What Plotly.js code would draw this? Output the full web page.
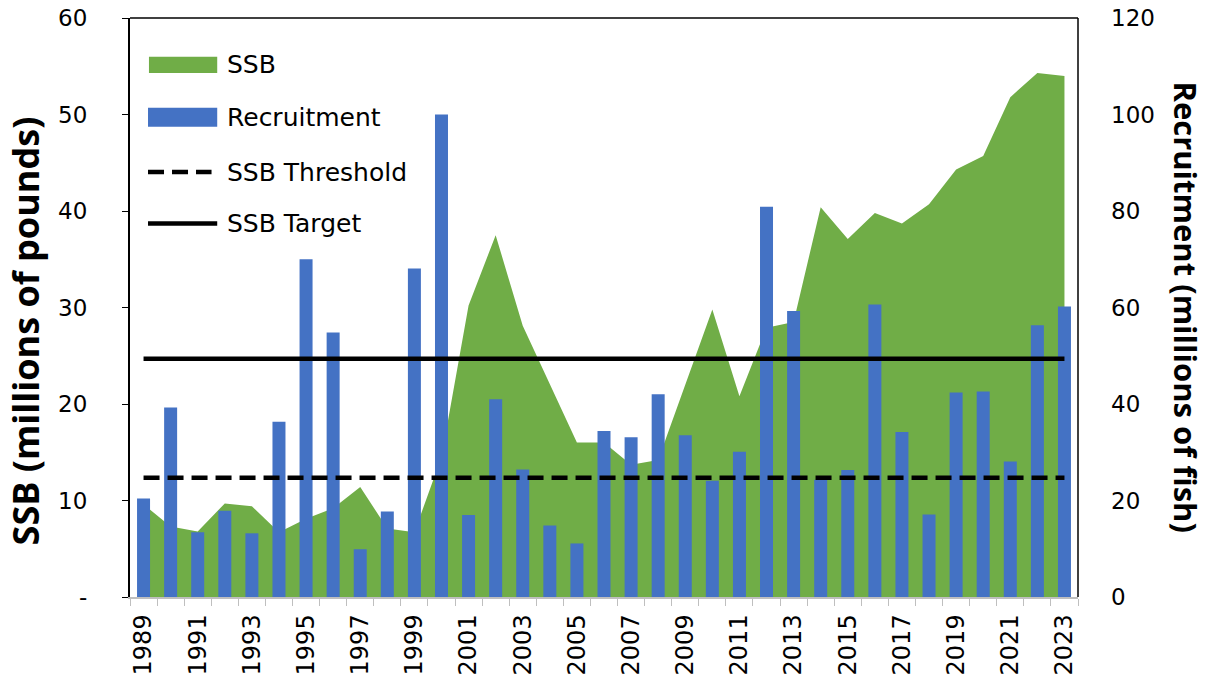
<!DOCTYPE html>
<html>
<head>
<meta charset="utf-8">
<script src="https://cdn.plot.ly/plotly-3.0.1.min.js"></script>
<style>
  html, body { margin: 0; padding: 0; background: #fff; }
  #chart { width: 1210px; height: 686px; }
</style>
</head>
<body>
<div id="chart"></div>
<script>
// Years on the category axis
var years = ['1989','1990','1991','1992','1993','1994','1995','1996','1997','1998',
             '1999','2000','2001','2002','2003','2004','2005','2006','2007','2008',
             '2009','2010','2011','2012','2013','2014','2015','2016','2017','2018',
             '2019','2020','2021','2022','2023'];

// SSB, millions of pounds (left axis)
var ssb = [9.6, 7.3, 6.8, 9.7, 9.4, 6.7, 8.1, 9.2, 11.4, 7.1,
           6.7, 14.5, 30.2, 37.5, 28.1, 22.0, 16.0, 16.0, 13.7, 14.2,
           22.0, 29.8, 20.8, 27.9, 28.5, 40.4, 37.1, 39.8, 38.7, 40.7,
           44.3, 45.7, 51.8, 54.3, 54.0];

// Recruitment, millions of fish (right axis)
var recruitment = [20.4, 39.3, 13.4, 17.9, 13.2, 36.3, 70.0, 54.8, 9.9, 17.7,
                   68.1, 100.0, 17.0, 41.0, 26.4, 14.8, 11.1, 34.4, 33.1, 42.0,
                   33.5, 24.1, 30.1, 80.9, 59.3, 24.3, 26.3, 60.6, 34.2, 17.1,
                   42.4, 42.6, 28.1, 56.3, 60.2];

var ssbThreshold = 12.35;
var ssbTarget = 24.7;

// only odd years get a label
var yearLabels = years.map(function (y) { return (+y % 2 === 1) ? y : ''; });

var GREEN = '#70AD47', BLUE = '#4472C4';
var legendNames = ['SSB', 'Recruitment', 'SSB Threshold', 'SSB Target'];

var ssbArea = {
    x: years, y: ssb,
    type: 'scatter', mode: 'lines',
    fill: 'tozeroy', fillcolor: GREEN,
    line: {width: 0, color: GREEN},
    name: 'SSB', hoverinfo: 'x+y',
    xaxis: 'x', yaxis: 'y'
};

var recBars = {
    x: years, y: recruitment,
    type: 'bar',
    marker: {color: BLUE},
    name: 'Recruitment',
    xaxis: 'x', yaxis: 'y2'
};

var threshLine = {
    x: [years[0], years[years.length - 1]], y: [ssbThreshold, ssbThreshold],
    type: 'scatter', mode: 'lines',
    line: {color: '#000', width: 4.5, dash: '16px,8px'},
    name: 'SSB Threshold',
    xaxis: 'x', yaxis: 'y3'
};

var targetLine = {
    x: [years[0], years[years.length - 1]], y: [ssbTarget, ssbTarget],
    type: 'scatter', mode: 'lines',
    line: {color: '#000', width: 4.5},
    name: 'SSB Target',
    xaxis: 'x', yaxis: 'y3'
};

// hand-built legend (wide swatches like the original)
var legendShapes = [
    {type: 'rect', xref: 'paper', yref: 'paper', x0: 0.020, x1: 0.092, y0: 0.905, y1: 0.933,
     fillcolor: GREEN, line: {width: 0}},
    {type: 'rect', xref: 'paper', yref: 'paper', x0: 0.019, x1: 0.092, y0: 0.812, y1: 0.845,
     fillcolor: BLUE, line: {width: 0}},
    {type: 'line', xref: 'paper', yref: 'paper', x0: 0.019, x1: 0.086, y0: 0.734, y1: 0.734,
     line: {color: '#000', width: 4.5, dash: '16px,8px'}},
    {type: 'line', xref: 'paper', yref: 'paper', x0: 0.019, x1: 0.092, y0: 0.645, y1: 0.645,
     line: {color: '#000', width: 4.5}}
];
var legendY = [0.919, 0.828, 0.734, 0.645];
var legendText = legendNames.map(function (n, i) {
    return {text: n, xref: 'paper', yref: 'paper', x: 0.100, y: legendY[i],
            xanchor: 'left', yanchor: 'middle', showarrow: false,
            font: {family: 'DejaVu Sans', size: 25, color: '#000'}};
});

var layout = {
    width: 1210, height: 686,
    margin: {l: 130, r: 132, t: 18, b: 89},
    paper_bgcolor: '#fff', plot_bgcolor: '#fff',
    bargap: 0.52,
    showlegend: false,
    xaxis: {
        type: 'category',
        tickmode: 'array', tickvals: years, ticktext: yearLabels,
        tickangle: -90,
        tickfont: {family: 'DejaVu Sans', size: 24, color: '#000'},
        tickson: 'boundaries',
        ticks: 'outside', ticklen: 7, tickcolor: '#bfbfbf',
        showline: true, linecolor: '#bfbfbf', linewidth: 1.5,
        showgrid: false, zeroline: false,
        ticklabelstandoff: 6
    },
    yaxis: {
        range: [0, 60],
        tickmode: 'array',
        tickvals: [0, 10, 20, 30, 40, 50, 60],
        ticktext: ['-', '10', '20', '30', '40', '50', '60'],
        tickfont: {family: 'DejaVu Sans', size: 23, color: '#000'},
        ticks: 'outside', ticklen: 6, tickcolor: '#000',
        showline: true, linecolor: '#000', linewidth: 2,
        showgrid: false, zeroline: false,
        ticklabelstandoff: 30
    },
    yaxis2: {
        range: [0, 120], overlaying: 'y', side: 'right',
        tickvals: [0, 20, 40, 60, 80, 100, 120],
        tickfont: {family: 'DejaVu Sans', size: 23, color: '#000'},
        ticks: '', showline: false,
        showgrid: false, zeroline: false,
        ticklabelstandoff: 32
    },
    yaxis3: {
        range: [0, 60], overlaying: 'y', visible: false
    },
    shapes: [
        {type: 'line', xref: 'paper', yref: 'paper', x0: 0, x1: 1, y0: 1, y1: 1,
         line: {color: '#000', width: 1.5}},
        {type: 'line', xref: 'paper', yref: 'paper', x0: 1, x1: 1, y0: 0, y1: 1,
         line: {color: '#000', width: 1.5}}
    ].concat(legendShapes),
    annotations: [
        {text: 'SSB (millions of pounds)', xref: 'paper', yref: 'paper',
         x: -0.110, y: 0.46, xanchor: 'center', yanchor: 'middle',
         textangle: -90, showarrow: false,
         font: {family: 'Open Sans', size: 36, color: '#000', weight: 'bold'}},
        {text: 'Recruitment (millions of fish)', xref: 'paper', yref: 'paper',
         x: 1.114, y: 0.50, xanchor: 'center', yanchor: 'middle',
         textangle: 90, showarrow: false,
         font: {family: 'Open Sans', size: 31, color: '#000', weight: 'bold'}}
    ].concat(legendText)
};

Plotly.newPlot('chart', [ssbArea, recBars, threshLine, targetLine], layout, {displayModeBar: false});
</script>
</body>
</html>
